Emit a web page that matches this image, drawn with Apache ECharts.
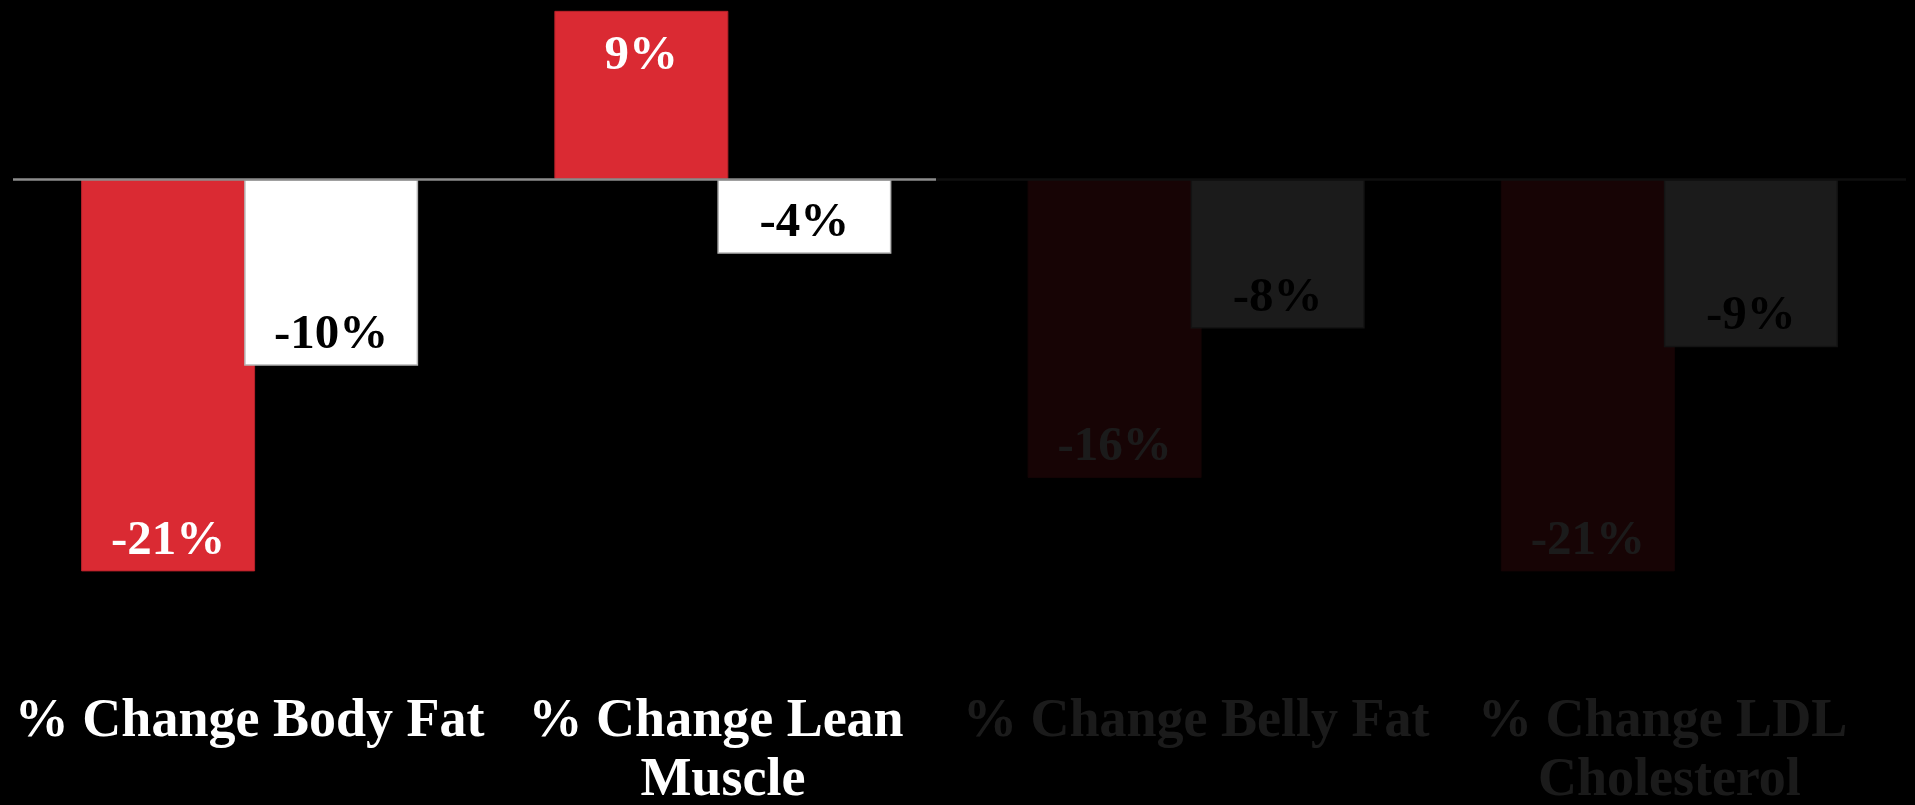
<!DOCTYPE html>
<html>
<head>
<meta charset="utf-8">
<title>% Change</title>
<script src="https://cdn.jsdelivr.net/npm/echarts@6/dist/echarts.min.js"></script>
<style>
  html, body { margin: 0; padding: 0; background: #000; }
  #chart { width: 1915px; height: 805px; }
</style>
</head>
<body>
<div id="chart"></div>
<script>
// Measures shown along the bottom
const categories = ['% Change Body Fat', '% Change Lean Muscle', '% Change Belly Fat', '% Change LDL Cholesterol'];
// Percentage change per group
const groupAValues = [-21, 9, -16, -21];
const groupBValues = [-10, -4, -8, -9];

const FONT = 'Liberation Serif';

// Labels sit just inside the far end of each bar
function withLabelPlacement(values) {
  return values.map(function (v) {
    return {
      value: v,
      label: v < 0
        ? { position: 'insideBottom', distance: 6 }
        : { position: 'insideTop', distance: 21 }
    };
  });
}

const chart = echarts.init(document.getElementById('chart'), null, { renderer: 'canvas' });

chart.setOption({
  backgroundColor: '#000000',
  animation: false,
  grid: {
    left: 13, right: 9, top: 1.5, bottom: 121.5,
    containLabel: false,
    outerBoundsMode: 'none'
  },
  xAxis: {
    type: 'category',
    data: categories,
    axisLine: { show: false, onZero: false },
    axisTick: { show: false },
    splitLine: { show: false },
    axisLabel: {
      interval: 0,
      margin: 9,
      color: '#ffffff',
      fontFamily: FONT,
      fontWeight: 'bold',
      fontSize: 54,
      lineHeight: 59,
      width: 470,
      overflow: 'break',
      verticalAlign: 'top'
    }
  },
  yAxis: {
    type: 'value',
    min: -27,
    max: 9.5,
    show: false
  },
  series: [
    {
      name: 'Group A',
      type: 'bar',
      data: withLabelPlacement(groupAValues),
      barWidth: 174,
      barGap: '-6.3%',
      itemStyle: { color: '#DA2A33', borderColor: '#b8222a', borderWidth: 1 },
      label: {
        show: true,
        color: '#ffffff',
        fontFamily: FONT,
        fontWeight: 'bold',
        fontSize: 49,
        formatter: function (p) { return p.value + '%'; }
      },
      markLine: {
        silent: true,
        symbol: ['none', 'none'],
        label: { show: false },
        lineStyle: { color: '#8c8c8c', width: 2.5, type: 'solid' },
        data: [{ yAxis: 0 }]
      }
    },
    {
      name: 'Group B',
      type: 'bar',
      data: withLabelPlacement(groupBValues),
      barWidth: 174,
      itemStyle: { color: '#ffffff', borderColor: '#b5b5b5', borderWidth: 1.5 },
      label: {
        show: true,
        color: '#000000',
        fontFamily: FONT,
        fontWeight: 'bold',
        fontSize: 49,
        formatter: function (p) { return p.value + '%'; }
      }
    }
  ],
  // Dark veil over the last two measures
  graphic: [
    {
      type: 'rect',
      z: 100,
      silent: true,
      shape: { x: 936, y: 0, width: 979, height: 805 },
      style: { fill: 'rgba(0,0,0,0.895)' }
    }
  ]
});
</script>
</body>
</html>
